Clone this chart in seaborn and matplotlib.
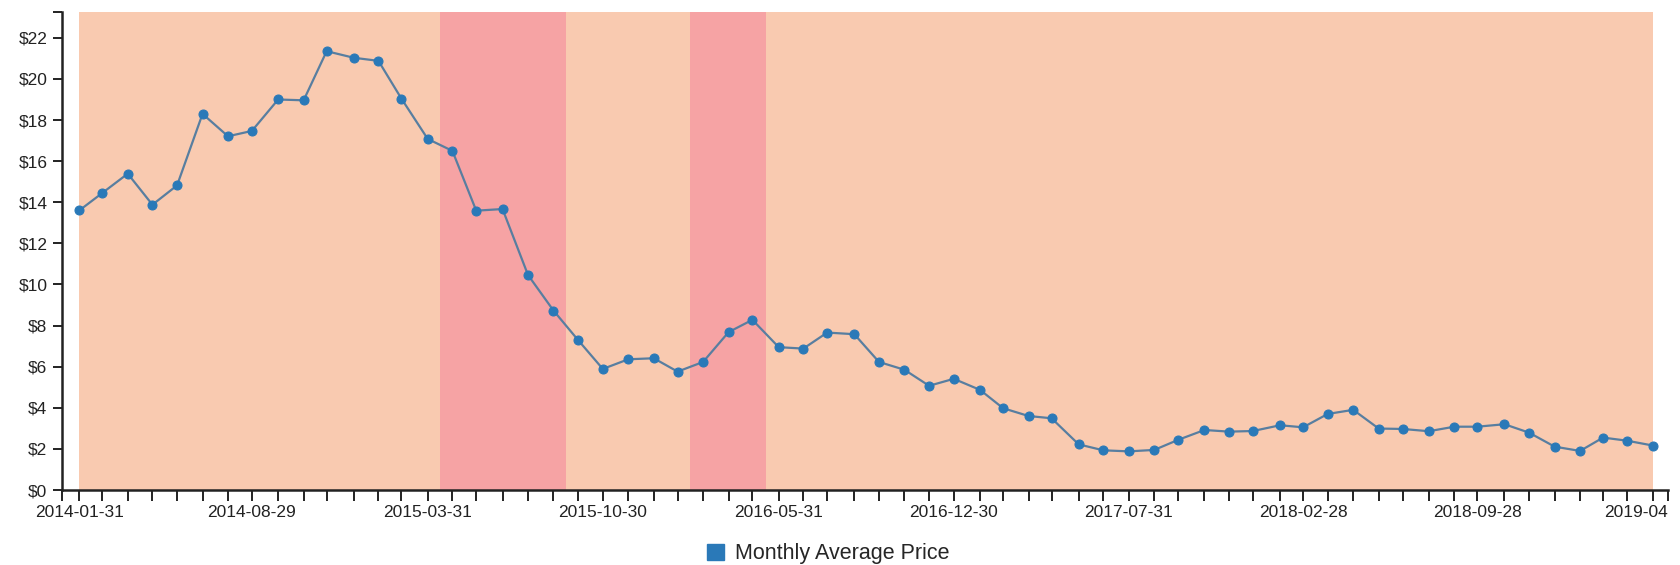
import matplotlib
matplotlib.use("Agg")
import matplotlib.pyplot as plt
import pandas as pd
import seaborn as sns
from matplotlib.patches import Patch
from matplotlib.transforms import ScaledTranslation

# monthly average price, business month ends 2014-01 .. 2019-04
PRICE_2014 = [13.60, 14.45, 15.39, 13.88, 14.82, 18.30, 17.21, 17.47, 19.00, 18.96, 21.35, 21.03]
PRICE_2015 = [20.88, 19.04, 17.08, 16.50, 13.59, 13.67, 10.46, 8.73, 7.29, 5.89, 6.36, 6.41]
PRICE_2016 = [5.76, 6.23, 7.68, 8.28, 6.95, 6.88, 7.66, 7.58, 6.23, 5.85, 5.07, 5.41]
PRICE_2017 = [4.87, 3.98, 3.60, 3.49, 2.22, 1.93, 1.88, 1.95, 2.44, 2.92, 2.84, 2.87]
PRICE_2018 = [3.15, 3.05, 3.70, 3.90, 2.99, 2.97, 2.86, 3.08, 3.08, 3.20, 2.79, 2.11]
PRICE_2019 = [1.90, 2.55, 2.40, 2.16]
PRICES = PRICE_2014 + PRICE_2015 + PRICE_2016 + PRICE_2017 + PRICE_2018 + PRICE_2019

START = "2014-01-31"
# highlighted (red) periods, first and last month inside each
RED_PERIODS = [("2015-04-30", "2015-08-31"), ("2016-02-29", "2016-04-29")]
LABEL_EVERY = 7
LAST_LABEL = "2019-04"  # the original cuts the last date short
SERIES_NAME = "Monthly Average Price"

dates = pd.date_range(START, periods=len(PRICES), freq=pd.offsets.BMonthEnd())
df = pd.DataFrame({"date": dates, "price": PRICES})

sns.set_style("ticks")
plt.rcParams["font.family"] = ["Liberation Sans", "DejaVu Sans"]

fig = plt.figure(figsize=(16.8, 5.65), dpi=100)
ax = fig.add_axes([62 / 1680, 1 - 490 / 565, (1668 - 62) / 1680, (490 - 11.7) / 565])

peach = "#f9cab0"
red = "#f6a3a4"
ax.axvspan(dates[0], dates[-1], color=peach, lw=0, zorder=0)
for a, b in RED_PERIODS:
    i0 = dates.get_loc(pd.Timestamp(a))
    i1 = dates.get_loc(pd.Timestamp(b))
    left = dates[i0 - 1] + (dates[i0] - dates[i0 - 1]) / 2
    right = dates[i1] + (dates[i1 + 1] - dates[i1]) / 2
    ax.axvspan(left, right, color=red, lw=0, zorder=1)

sns.lineplot(data=df, x="date", y="price", ax=ax, color="#587ea0", linewidth=1.6,
             marker="o", markersize=6.5, markerfacecolor="#2a79b8",
             markeredgecolor="#2a79b8", zorder=3)

xmin = dates[0] - pd.Timedelta(days=21)
xmax = dates[-1] + pd.Timedelta(days=18)
ymax = max(PRICES) * 1.09
ax.set_xlim(xmin, xmax)
ax.set_ylim(0, ymax)

xt = [xmin] + list(dates) + [xmax]
xl = [""] + [d.strftime("%Y-%m-%d") if i % LABEL_EVERY == 0 else ""
             for i, d in enumerate(dates)] + [""]
xl[len(dates)] = LAST_LABEL
ax.set_xticks(xt)
ax.set_xticklabels(xl)
yt = list(range(0, 23, 2)) + [ymax]
ax.set_yticks(yt)
ax.set_yticklabels([f"${v}" for v in range(0, 23, 2)] + [""])

ax.set_xlabel("")
ax.set_ylabel("")
ax.tick_params(axis="x", length=8, width=1.4, pad=3, labelsize=12.5, colors="#222222")
ax.tick_params(axis="y", length=6.5, width=1.4, pad=4, labelsize=12.5, colors="#222222")
for s in ["top", "right"]:
    ax.spines[s].set_visible(False)
for s in ["left", "bottom"]:
    ax.spines[s].set_linewidth(1.8)
    ax.spines[s].set_color("#222222")
ax.set_facecolor("white")

fig.legend(handles=[Patch(color="#2a79b8", label=SERIES_NAME)], loc="center",
           bbox_to_anchor=(828 / 1680, 11 / 565), frameon=False, fontsize=15.5,
           handlelength=0.8, handleheight=0.8, handletextpad=0.5, borderpad=0)

# keep the short last label flush with the axis end, like the original
fig.canvas.draw()
last = ax.xaxis.get_major_ticks()[len(dates)].label1
last.set_horizontalalignment("right")
last.set_transform(last.get_transform() + ScaledTranslation(0.15, 0, fig.dpi_scale_trans))

fig.savefig("out.png", dpi=100)
